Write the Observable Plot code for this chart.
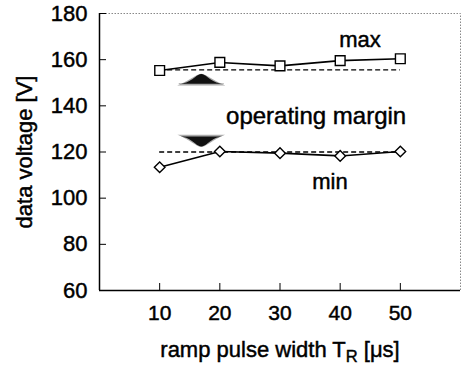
<!DOCTYPE html>
<html>
<head>
<meta charset="utf-8">
<script src="https://cdn.jsdelivr.net/npm/d3@7"></script>
<script src="https://cdn.jsdelivr.net/npm/@observablehq/plot@0.6"></script>
<style>
  html, body { margin: 0; padding: 0; background: #fff; }
  #chart svg { display: block; }
  #chart svg text { stroke: #000; stroke-width: 0.45px; }
</style>
</head>
<body>
<div id="chart"></div>
<script>
const rampWidths = [10, 20, 30, 40, 50];
const maxVoltage = [155.3, 158.8, 157.3, 159.6, 160.4];
const minVoltage = [113.4, 120.2, 119.5, 118.3, 120.2];
const maxThreshold = 155.6;
const minThreshold = 120;
const xTicks = [10, 20, 30, 40, 50];
const yTicks = [60, 80, 100, 120, 140, 160, 180];

// annotation labels (data units)
const labelText = ["max", "operating margin", "min"];
const labelX = [43.3, 36.0, 38.3];
const labelY = [168.4, 135.6, 107.2];
const labelSize = [22, 24, 22];

// margin arrows (bell-shaped pointers)
const arrowCenterX = 17;
const arrowOffsets = [-4, -3, -2, -1, 0, 1, 2, 3, 4];
const outerShape = [0, 0.2, 0.45, 0.75, 1, 0.75, 0.45, 0.2, 0];
const innerShape = [0, 0, 0.2, 0.6, 1, 0.6, 0.2, 0, 0];
const arrowUpBase = 148.6, arrowUpTip = 154.2;
const arrowDownBase = 127.3, arrowDownTip = 121.5;

const maxData = rampWidths.map((x, i) => ({x, y: maxVoltage[i]}));
const minData = rampWidths.map((x, i) => ({x, y: minVoltage[i]}));
const labels = labelText.map((t, i) => ({t, x: labelX[i], y: labelY[i], s: labelSize[i]}));
const bell = (base, tip, shape) => arrowOffsets.map((o, i) => ({x: arrowCenterX + o, y1: base, y2: base + (tip - base) * shape[i]}));
const thresholds = [
  {x1: rampWidths[0], x2: rampWidths[rampWidths.length - 1], y: maxThreshold},
  {x1: rampWidths[0], x2: rampWidths[rampWidths.length - 1], y: minThreshold}
];

const font = "'Liberation Sans', Arial, sans-serif";

const plot = Plot.plot({
  width: 462,
  height: 366,
  marginLeft: 99,
  marginRight: 2,
  marginTop: 13,
  marginBottom: 76,
  style: {fontFamily: font, background: "#fff", color: "#000"},
  x: {domain: [0, 60]},
  y: {domain: [60, 180]},
  marks: [
    Plot.frame({stroke: "#888", strokeDasharray: "1.5,1.5"}),
    Plot.ruleX([0], {stroke: "#000", strokeWidth: 1.5}),
    Plot.ruleY([60], {stroke: "#000", strokeWidth: 1.5}),
    Plot.axisY({ticks: yTicks, tickSize: -7, tickPadding: 19, fontSize: 22, label: "data voltage [V]", labelAnchor: "center", labelOffset: 83, labelArrow: "none"}),
    Plot.axisX({ticks: xTicks, tickSize: -7, tickPadding: 22, fontSize: 21, label: "ramp pulse width TR [μs]", labelAnchor: "center", labelOffset: 66, labelArrow: "none"}),
    Plot.areaY(bell(arrowUpBase, arrowUpTip, outerShape), {x: "x", y1: "y1", y2: "y2", curve: "basis", fill: "#aaa"}),
    Plot.areaY(bell(arrowUpBase + 0.8, arrowUpTip, innerShape), {x: "x", y1: "y1", y2: "y2", curve: "basis", fill: "#111"}),
    Plot.areaY(bell(arrowDownBase, arrowDownTip, outerShape), {x: "x", y1: "y1", y2: "y2", curve: "basis", fill: "#aaa"}),
    Plot.areaY(bell(arrowDownBase - 0.8, arrowDownTip, innerShape), {x: "x", y1: "y1", y2: "y2", curve: "basis", fill: "#111"}),
    Plot.ruleY(thresholds, {x1: "x1", x2: "x2", y: "y", stroke: "#000", strokeWidth: 1.3, strokeDasharray: "5,3"}),
    Plot.line(maxData, {x: "x", y: "y", stroke: "#000", strokeWidth: 1.6}),
    Plot.line(minData, {x: "x", y: "y", stroke: "#000", strokeWidth: 1.6}),
    Plot.dot(maxData, {x: "x", y: "y", symbol: "square", r: 5.5, fill: "#fff", stroke: "#000", strokeWidth: 1.4}),
    Plot.dot(minData, {x: "x", y: "y", symbol: "diamond2", r: 4.8, fill: "#fff", stroke: "#000", strokeWidth: 1.4}),
    Plot.text(labels, {x: "x", y: "y", text: "t", fontSize: "s", fill: "#000", textAnchor: "middle"})
  ]
});

// subscript in x-axis label
const svg = d3.select(plot);
svg.selectAll('g[aria-label="x-axis label"] text').each(function() {
  const t = d3.select(this);
  t.text(null);
  t.append("tspan").text("ramp pulse width T");
  t.append("tspan").attr("font-size", "0.75em").attr("baseline-shift", "-0.3em").text("R");
  t.append("tspan").text(" [μs]");
});
svg.selectAll('g[aria-label="x-axis label"] text, g[aria-label="y-axis label"] text').attr("font-size", 22);

document.getElementById("chart").appendChild(plot);
</script>
</body>
</html>
